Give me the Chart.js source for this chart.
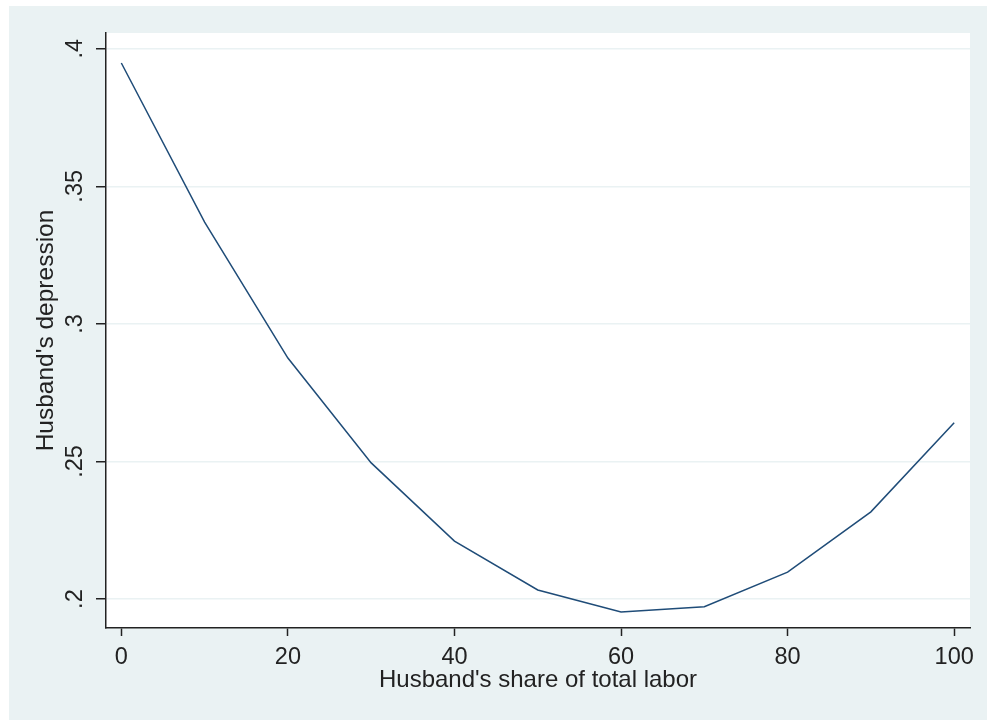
<!DOCTYPE html>
<html>
<head>
<meta charset="utf-8">
<script src="https://cdn.jsdelivr.net/npm/chart.js@4.4.1/dist/chart.umd.min.js"></script>
<style>
  html, body { margin: 0; padding: 0; background: #fff; }
  #wrap { width: 987px; height: 720px; }
</style>
</head>
<body>
<div id="wrap"><canvas id="chart" width="987" height="720"></canvas></div>
<script>
// values
const shares = [0, 10, 20, 30, 40, 50, 60, 70, 80, 90, 100];
const depression = [0.3948, 0.337, 0.2876, 0.2495, 0.2211, 0.2033, 0.1953, 0.1972, 0.2098, 0.2317, 0.2641];
const xTicks = [0, 20, 40, 60, 80, 100];
const yTicks = [0.2, 0.25, 0.3, 0.35, 0.4];
const yTickLabels = ['.2', '.25', '.3', '.35', '.4'];

const bgColor = '#eaf2f3';
const axisColor = '#222';
const fontFamily = '"Liberation Sans", Arial, sans-serif';

// stata-ish backdrop: light panel, white plot region
const backdrop = {
    id: 'backdrop',
    beforeDraw(chart) {
        const { ctx, chartArea } = chart;
        ctx.save();
        ctx.fillStyle = '#ffffff';
        ctx.fillRect(0, 0, chart.width, chart.height);
        ctx.fillStyle = bgColor;
        ctx.fillRect(9, 6, chart.width - 9, chart.height - 6);
        ctx.fillStyle = '#ffffff';
        ctx.fillRect(chartArea.left, chartArea.top, chartArea.right - chartArea.left, chartArea.bottom - chartArea.top);
        ctx.restore();
    }
};

// rotated y tick labels + y title
const yLabels = {
    id: 'yLabels',
    afterDraw(chart) {
        const { ctx, chartArea } = chart;
        const y = chart.scales.y;
        ctx.save();
        ctx.fillStyle = axisColor;
        ctx.textAlign = 'center';
        ctx.textBaseline = 'alphabetic';
        ctx.font = '23.5px ' + fontFamily;
        yTicks.forEach((v, i) => {
            ctx.save();
            ctx.translate(82, y.getPixelForValue(v));
            ctx.rotate(-Math.PI / 2);
            ctx.fillText(yTickLabels[i], 0, 0);
            ctx.restore();
        });
        ctx.font = '24.5px ' + fontFamily;
        ctx.translate(53, (chartArea.top + chartArea.bottom) / 2);
        ctx.rotate(-Math.PI / 2);
        ctx.fillText("Husband's depression", 0, 0);
        ctx.restore();
    }
};

const config = {
    type: 'line',
    data: {
        labels: shares,
        datasets: [{
            data: shares.map((s, i) => ({ x: s, y: depression[i] })),
            borderColor: '#1f4c78',
            borderWidth: 1.5,
            pointRadius: 0,
            tension: 0,
            fill: false
        }]
    },
    options: {
        responsive: false,
        animation: false,
        layout: { padding: { left: 0, top: 33, right: 17, bottom: 25 } },
        plugins: {
            legend: { display: false },
            tooltip: { enabled: false }
        },
        scales: {
            x: {
                type: 'linear',
                min: -1.84,
                max: 101.9,
                afterBuildTicks: (scale) => { scale.ticks = xTicks.map(v => ({ value: v })); },
                afterFit: (scale) => { scale.height = 67; },
                grid: {
                    drawOnChartArea: false,
                    tickLength: 8,
                    tickColor: axisColor,
                    tickWidth: 1.5
                },
                border: { display: true, color: axisColor, width: 1.5 },
                ticks: {
                    padding: 7,
                    color: axisColor,
                    maxRotation: 0,
                    autoSkip: false,
                    font: { family: fontFamily, size: 23.5 }
                },
                title: {
                    display: true,
                    text: "Husband's share of total labor",
                    color: axisColor,
                    padding: { top: 0, bottom: 0 },
                    font: { family: fontFamily, size: 24 }
                }
            },
            y: {
                min: 0.1895,
                max: 0.4057,
                afterBuildTicks: (scale) => { scale.ticks = yTicks.map(v => ({ value: v })); },
                afterFit: (scale) => { scale.width = 106; },
                grid: {
                    color: bgColor,
                    lineWidth: 1.5,
                    tickLength: 10,
                    tickColor: axisColor,
                    tickWidth: 1.5
                },
                border: { display: true, color: axisColor, width: 1.5 },
                ticks: { display: false }
            }
        }
    },
    plugins: [backdrop, yLabels]
};

const ctx = document.getElementById('chart').getContext('2d');
new Chart(ctx, config);
</script>
</body>
</html>
